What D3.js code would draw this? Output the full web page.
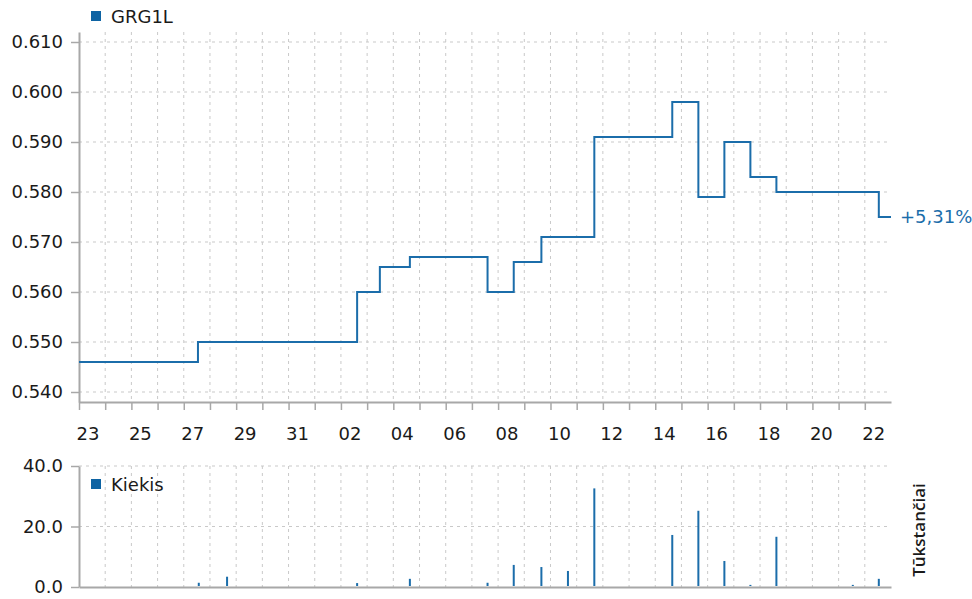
<!DOCTYPE html>
<html>
<head>
<meta charset="utf-8">
<script src="https://cdn.jsdelivr.net/npm/d3@7"></script>
<style>
    body { margin: 0; background: #fff; }
    text { font-family: "DejaVu Sans", sans-serif; }
</style>
</head>
<body>
<svg id="chart" width="972" height="599"></svg>
<script>
// price steps (each value holds until the next time)
const priceTimes = ["2011-01-23 00:00", "2011-01-27 13:00", "2011-01-28 15:40", "2011-02-02 14:50",
    "2011-02-03 11:40", "2011-02-04 15:10", "2011-02-07 14:20", "2011-02-08 14:20", "2011-02-09 15:40",
    "2011-02-10 16:00", "2011-02-11 16:10", "2011-02-14 15:35", "2011-02-15 15:30", "2011-02-16 15:20",
    "2011-02-17 15:10", "2011-02-18 15:00", "2011-02-21 13:00", "2011-02-22 12:50"];
const priceValues = [0.546, 0.550, 0.550, 0.560, 0.565, 0.567, 0.560, 0.566, 0.571,
    0.571, 0.591, 0.598, 0.579, 0.590, 0.583, 0.580, 0.580, 0.575];

// volume, thousands
const volTimes = ["2011-01-27 13:45", "2011-01-28 15:40", "2011-02-02 14:50", "2011-02-04 15:10",
    "2011-02-07 14:20", "2011-02-08 14:20", "2011-02-09 15:40", "2011-02-10 16:00", "2011-02-11 16:10",
    "2011-02-14 15:35", "2011-02-15 15:30", "2011-02-16 15:20", "2011-02-17 15:10", "2011-02-18 15:00",
    "2011-02-21 13:00", "2011-02-22 12:50"];
const volValues = [1.4, 3.4, 1.3, 2.7, 1.4, 7.3, 6.6, 5.3, 32.6, 17.2, 25.2, 8.6, 0.7, 16.6, 0.7, 2.7];

const priceTicks = [0.540, 0.550, 0.560, 0.570, 0.580, 0.590, 0.600, 0.610];
const volTicks = [0, 20, 40];
const changeLabel = "+5,31%";

const parse = d3.timeParse("%Y-%m-%d %H:%M");
const blue = "#1b6daa";
const gridColor = "#c9c9c9";
const axisColor = "#a8a8a8";

const svg = d3.select("#chart");

const x = d3.scaleTime()
    .domain([new Date(2011, 0, 23), new Date(2011, 1, 23)])
    .range([79, 891]);
const yTop = d3.scaleLinear().domain([0.538, 0.612]).range([402, 32]);
const yBot = d3.scaleLinear().domain([0, 40]).range([587, 466]);

const days = d3.timeDay.range(x.domain()[0], x.domain()[1]);

function grid(y, ticks) {
    const g = svg.append("g");
    g.selectAll(".vg")
        .data(days.slice(1))
        .enter().append("line")
        .attr("x1", d => x(d)).attr("x2", d => x(d))
        .attr("y1", y.range()[1]).attr("y2", y.range()[0])
        .attr("stroke", gridColor)
        .attr("stroke-dasharray", "3,4");
    g.selectAll(".hg")
        .data(ticks)
        .enter().append("line")
        .attr("x1", x.range()[0]).attr("x2", x.range()[1])
        .attr("y1", d => y(d)).attr("y2", d => y(d))
        .attr("stroke", gridColor)
        .attr("stroke-dasharray", "3,4");
}
grid(yTop, priceTicks);
grid(yBot, volTicks.filter(d => d > 0));

function styleAxis(g) {
    g.select(".domain").attr("stroke", axisColor).attr("stroke-width", 2);
    g.selectAll(".tick line").attr("stroke", axisColor).attr("stroke-width", 1.5);
    g.selectAll(".tick text").attr("fill", "#1a1a1a").style("font-size", "18px")
        .style("font-family", "DejaVu Sans, sans-serif");
}

// top panel axes
svg.append("g")
    .attr("transform", `translate(${x.range()[0]},0)`)
    .call(d3.axisLeft(yTop).tickValues(priceTicks).tickFormat(d3.format(".3f")).tickSize(8).tickPadding(8).tickSizeOuter(0))
    .call(styleAxis);

const xAxis = svg.append("g")
    .attr("transform", `translate(0,${yTop.range()[0]})`)
    .call(d3.axisBottom(x).tickValues(days).tickFormat((d, i) => i % 2 === 0 ? d3.timeFormat("%d")(d) : "")
        .tickSize(8).tickSizeOuter(0))
    .call(styleAxis);
xAxis.selectAll(".tick text")
    .attr("text-anchor", "start")
    .attr("x", -3)
    .attr("y", 25)
    .attr("dy", "0.71em");

// bottom panel axes
svg.append("g")
    .attr("transform", `translate(${x.range()[0]},0)`)
    .call(d3.axisLeft(yBot).tickValues(volTicks).tickFormat(d3.format(".1f")).tickSize(8).tickPadding(8).tickSizeOuter(0))
    .call(styleAxis);

svg.append("g")
    .attr("transform", `translate(0,${yBot.range()[0]})`)
    .call(d3.axisBottom(x).tickValues([]).tickSizeOuter(0))
    .call(styleAxis);

// price step line
const pts = priceTimes.map((t, i) => ({ date: parse(t), value: priceValues[i] }));
pts.push({ date: x.domain()[1], value: priceValues[priceValues.length - 1] });

svg.append("path")
    .datum(pts)
    .attr("fill", "none")
    .attr("stroke", blue)
    .attr("stroke-width", 2)
    .attr("d", d3.line().x(d => x(d.date)).y(d => yTop(d.value)).curve(d3.curveStepAfter));

svg.append("text")
    .attr("x", x.range()[1] + 9)
    .attr("y", yTop(priceValues[priceValues.length - 1]))
    .attr("dy", "0.36em")
    .attr("fill", blue)
    .style("font-size", "18px")
    .text(changeLabel);

// volume bars
svg.selectAll(".vol")
    .data(volTimes.map((t, i) => ({ date: parse(t), value: volValues[i] })))
    .enter().append("rect")
    .attr("class", "vol")
    .attr("x", d => x(d.date) - 1)
    .attr("width", 2)
    .attr("y", d => yBot(d.value))
    .attr("height", d => yBot(0) - yBot(d.value) - 1)
    .attr("fill", blue);

// legends
function legend(y, label) {
    svg.append("rect").attr("x", 91).attr("y", y - 12).attr("width", 10).attr("height", 10).attr("fill", "#0e63a3");
    svg.append("text").attr("x", 111).attr("y", y)
        .attr("fill", "#1a1a1a").style("font-size", "18px").text(label);
}
legend(23, "GRG1L");
legend(491, "Kiekis");

svg.append("text")
    .attr("transform", "translate(925,530) rotate(-90)")
    .attr("text-anchor", "middle")
    .attr("fill", "#1a1a1a")
    .style("font-family", "Open Sans, sans-serif")
    .style("font-weight", 600)
    .style("font-size", "17px")
    .text("Tūkstančiai");
</script>
</body>
</html>
